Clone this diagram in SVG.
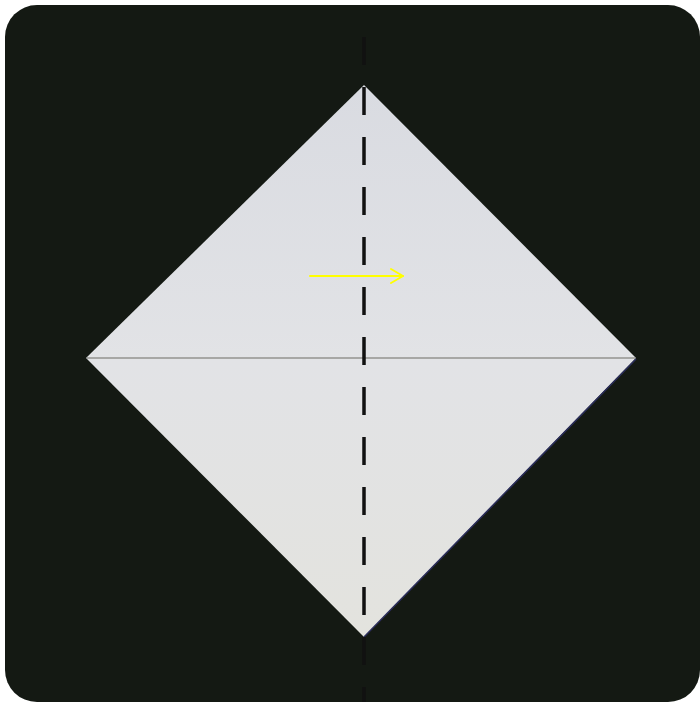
<svg xmlns="http://www.w3.org/2000/svg" width="700" height="702" viewBox="0 0 700 702">
<defs>
<linearGradient id="paper" x1="0" y1="0" x2="0" y2="1">
<stop offset="0" stop-color="#d9dbe1"/>
<stop offset="0.5" stop-color="#e2e3e6"/>
<stop offset="1" stop-color="#e3e3de"/>
</linearGradient>
<style>
.crease{stroke:#a7a7a5;stroke-width:2}
.valley{stroke:#111111;stroke-width:3.5;stroke-dasharray:28 22;fill:none}
.arrow{stroke:#ffff00;stroke-width:2;fill:none;stroke-linecap:round;stroke-linejoin:round}
</style>
</defs>
<rect x="0" y="0" width="700" height="702" fill="#ffffff"/>
<rect id="background" x="5" y="5" width="695" height="697" rx="32" fill="#141913"/>
<g id="paper-square">
<polygon points="364,85 636,358 364,637 86,358" fill="url(#paper)"/>
<path d="M636,359 L364,637" stroke="#2a2d5a" stroke-width="1.5" fill="none"/>
<line class="crease" x1="87" y1="358" x2="635" y2="358"/>
</g>
<g id="connectors">
<line class="valley" x1="364" y1="37" x2="364" y2="702"/>
<g id="fold-arrow">
<line class="arrow" x1="310" y1="276" x2="403" y2="276"/>
<path class="arrow" d="M391,269 L403,276 L391,283"/>
</g>
</g>
</svg>
